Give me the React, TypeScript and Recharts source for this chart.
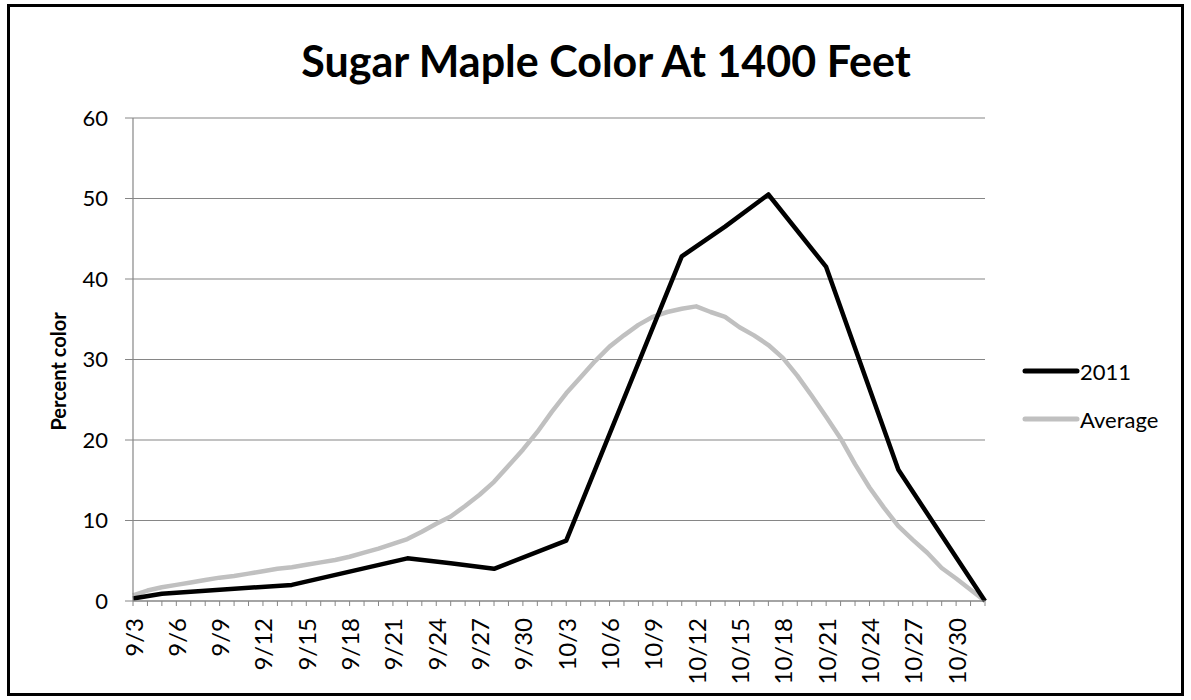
import React from 'react';
import { CartesianGrid, Line, LineChart, XAxis, YAxis } from 'recharts';

// one category per day, 9/3 .. 11/1
const days = [
  '9/3', '9/4', '9/5', '9/6', '9/7', '9/8', '9/9', '9/10', '9/11', '9/12',
  '9/13', '9/14', '9/15', '9/16', '9/17', '9/18', '9/19', '9/20', '9/21', '9/22',
  '9/23', '9/24', '9/25', '9/26', '9/27', '9/28', '9/29', '9/30',
  '10/1', '10/2', '10/3', '10/4', '10/5', '10/6', '10/7', '10/8', '10/9', '10/10',
  '10/11', '10/12', '10/13', '10/14', '10/15', '10/16', '10/17', '10/18', '10/19', '10/20',
  '10/21', '10/22', '10/23', '10/24', '10/25', '10/26', '10/27', '10/28', '10/29', '10/30',
  '10/31', '11/1',
];

// 2011 observations (null = no reading that day, line is drawn straight across)
const color2011: (number | null)[] = [
  0.3, null, 0.9, null, null, null, null, null, null, null,
  null, 2.0, null, null, null, null, null, null, null, 5.3,
  null, null, 4.7, null, null, 4.0, null, null,
  null, null, 7.5, null, null, null, null, null, null, null,
  42.8, null, null, 46.5, null, null, 50.5, null, null, null,
  41.5, null, null, null, null, 16.3, null, null, null, null,
  null, 0,
];

const colorAverage = [
  0.7, 1.3, 1.7, 2.0, 2.3, 2.6, 2.9, 3.1, 3.4, 3.7,
  4.0, 4.2, 4.5, 4.8, 5.1, 5.5, 6.0, 6.5, 7.1, 7.7,
  8.6, 9.6, 10.5, 11.8, 13.2, 14.8, 16.8, 18.8,
  21.0, 23.5, 25.8, 27.8, 29.8, 31.6, 33.0, 34.3, 35.3, 35.9,
  36.3, 36.6, 35.9, 35.3, 34.0, 33.0, 31.8, 30.2, 28.0, 25.5,
  22.9, 20.2, 17.0, 14.1, 11.6, 9.3, 7.6, 6.0, 4.1, 2.8,
  1.4, 0,
];

const yTicks = [0, 10, 20, 30, 40, 50, 60];

const seriesInfo = [
  { key: 'y2011', name: '2011', color: '#000000' },
  { key: 'average', name: 'Average', color: '#c0c0c0' },
];

const data = days.map((day, i) => ({ day, y2011: color2011[i], average: colorAverage[i] }));

const FONT = 'Lato, "Liberation Sans", sans-serif';
const AXIS = '#868686';

const DateTick = (props: any) => {
  const { x, y, payload } = props;
  const idx = days.indexOf(payload.value);
  if (idx % 3 !== 0) return <g />;
  return (
    <text
      x={x}
      y={y}
      transform={`rotate(-90 ${x} ${y})`}
      textAnchor="end"
      dominantBaseline="central"
      fontSize={24}
      fontFamily={FONT}
      fill="#000"
    >
      {payload.value}
    </text>
  );
};

const YTitle = (props: any) => {
  const { viewBox } = props;
  const cx = viewBox.x + 58;
  const cy = viewBox.y + viewBox.height / 2 + 12;
  return (
    <text
      x={cx}
      y={cy}
      transform={`rotate(-90 ${cx} ${cy})`}
      textAnchor="middle"
      dominantBaseline="central"
      fontSize={20}
      fontWeight="bold"
      fontFamily={FONT}
      fill="#000"
    >
      Percent color
    </text>
  );
};

const LegendBox = () => (
  <div style={{ position: 'absolute', left: 1022, top: 347, fontFamily: FONT, fontSize: 22, color: '#000' }}>
    {seriesInfo.map((s) => (
      <div key={s.key} style={{ display: 'flex', alignItems: 'center', height: 48 }}>
        <svg width={58} height={10} style={{ display: 'block' }}>
          <line x1={3} y1={5} x2={55} y2={5} stroke={s.color} strokeWidth={5} strokeLinecap="round" />
        </svg>
        <span>{s.name}</span>
      </div>
    ))}
  </div>
);

export default function App() {
  return (
    <div style={{ position: 'absolute', left: 0, top: 0, width: 1191, height: 700, background: '#fff' }}>
      <svg width={1191} height={700} style={{ position: 'absolute', left: 0, top: 0 }}>
        <rect x={8.5} y={5.5} width={1174} height={689} fill="none" stroke="#000" strokeWidth={3} />
        <text x={606} y={77} textAnchor="middle" fontSize={43} fontWeight="bold" fontFamily={FONT} fill="#000">
          Sugar Maple Color At 1400 Feet
        </text>
      </svg>
      <div style={{ position: 'absolute', left: 0, top: 0 }}>
        <LineChart width={1191} height={700} data={data} margin={{ top: 118, right: 206, bottom: 8, left: 0 }}>
          <CartesianGrid vertical={false} stroke={AXIS} strokeWidth={1.2} />
          <XAxis
            dataKey="day"
            interval={0}
            height={91}
            tickSize={5}
            tickMargin={12}
            axisLine={{ stroke: AXIS, strokeWidth: 1.2 }}
            tickLine={{ stroke: AXIS }}
            tick={<DateTick />}
          />
          <YAxis
            width={133}
            domain={[0, 60]}
            ticks={yTicks}
            interval={0}
            tickSize={8}
            tickMargin={17}
            axisLine={{ stroke: AXIS, strokeWidth: 1.2 }}
            tickLine={{ stroke: AXIS }}
            tick={{ fill: '#000', fontSize: 22, fontFamily: FONT }}
            label={<YTitle />}
          />
          <Line
            dataKey="average"
            name="Average"
            type="linear"
            stroke="#c0c0c0"
            strokeWidth={4.5}
            strokeLinejoin="round"
            dot={false}
            activeDot={false}
            isAnimationActive={false}
          />
          <Line
            dataKey="y2011"
            name="2011"
            type="linear"
            stroke="#000000"
            strokeWidth={4.5}
            strokeLinejoin="round"
            connectNulls
            dot={false}
            activeDot={false}
            isAnimationActive={false}
          />
        </LineChart>
      </div>
      <LegendBox />
    </div>
  );
}
